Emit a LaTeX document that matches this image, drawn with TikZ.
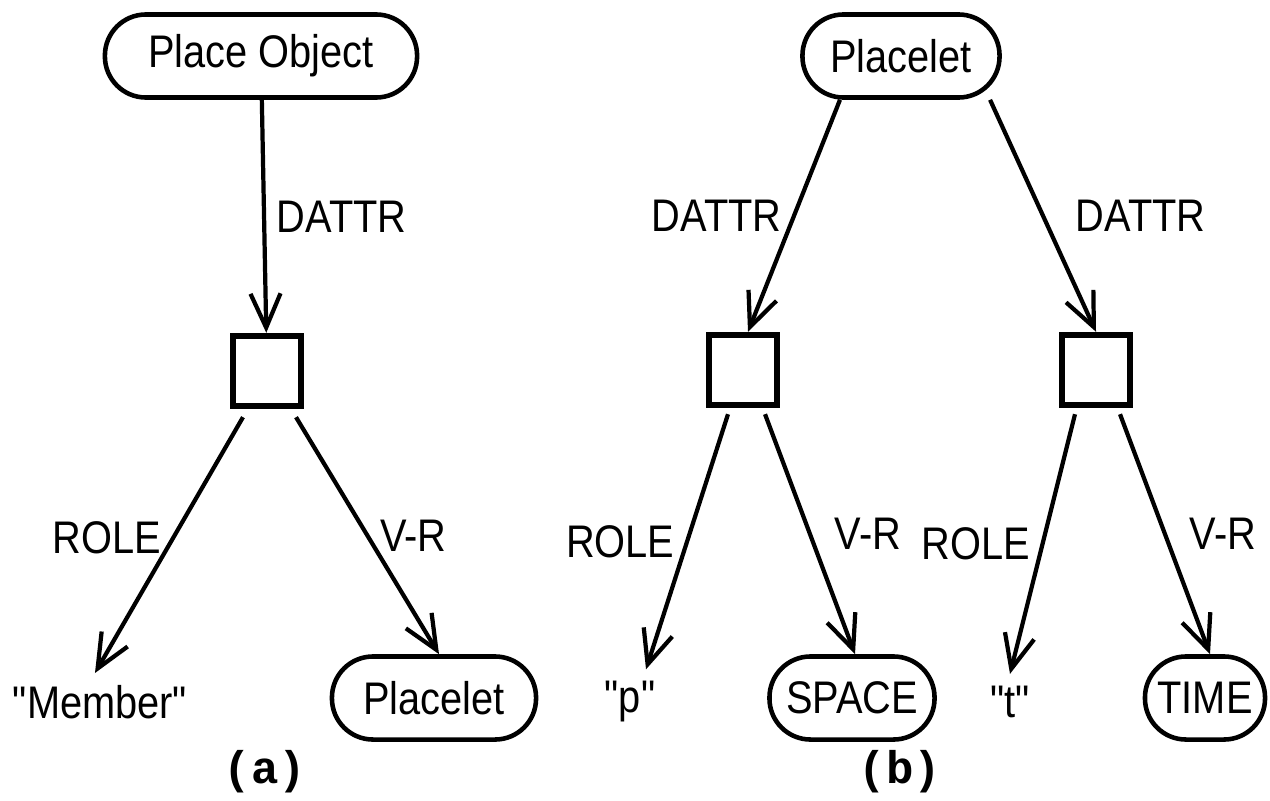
\documentclass[tikz,border=0pt]{standalone}
\usepackage{fontspec}
\newfontfamily\plotfont{Liberation Sans}[FakeStretch=0.87]
\newfontfamily\capfont{Liberation Mono}
\usetikzlibrary{arrows.meta}
\tikzset{
     concept/.style={draw, rectangle, rounded corners=0.41cm, minimum height=0.83cm, minimum width=#1, inner xsep=0.1cm, line width=1.3pt},
     slot/.style={draw, rectangle, minimum width=0.68cm, minimum height=0.7cm, line width=1.8pt},
     lit/.style={inner sep=1pt},
     link/.style={->, line width=1.2pt},
     lab/.style={inner sep=3pt},
     capt/.style={font=\capfont\bfseries\fontsize{13}{15}\selectfont},
}
\tikzset{>={Straight Barb[length=3.4mm,width=3mm]}}

\begin{document}
\begin{tikzpicture}[x=0.01cm, y=-0.01cm, font=\plotfont\fontsize{13}{15}\selectfont]
     \useasboundingbox (0,0) rectangle (1270,800);

     % (a)
     \node[concept=3.12cm] (pobj) at (261,56) {Place Object};
     \node[slot] (sa) at (267,371) {};
     \node[lit] (memb) at (100,702) {"Member"};
     \node[concept=2.04cm] (pla) at (434,698) {Placelet};

     \draw[link] (pobj) -- node[right,lab] {DATTR} (sa);
     \draw[link] ([xshift=-0.24cm,yshift=-0.08cm]sa.south) -- node[left,lab,pos=0.47] {ROLE} ([xshift=-0.05cm,yshift=0.08cm]memb.north);
     \draw[link] ([xshift=0.29cm,yshift=-0.08cm]sa.south) -- node[right,lab,pos=0.5] {V-R} ([xshift=0.05cm]pla.north);

     \node[capt] (capa) at (265,772) {(a)};

     % (b)
     \node[concept=1.97cm] (plb) at (901,56) {Placelet};
     \node[slot] (sb1) at (743,370) {};
     \node[slot] (sb2) at (1096,370) {};
     \node[lit] (pq) at (630,702) {"p"};
     \node[concept=1.65cm] (space) at (852,698) {SPACE};
     \node[lit] (tq) at (1010,702) {"t"};
     \node[concept=1.2cm] (time) at (1205,698) {TIME};

     \draw[link] ([xshift=-0.61cm]plb.south) -- node[left,lab] {DATTR} ([xshift=0.05cm]sb1.north);
     \draw[link] ([xshift=0.89cm]plb.south) -- node[right,lab,xshift=0.2cm] {DATTR} (sb2.north);

     \draw[link] ([xshift=-0.15cm,yshift=-0.06cm]sb1.south) -- node[left,lab,pos=0.5] {ROLE} ([xshift=0.16cm,yshift=0.08cm]pq.north);
     \draw[link] ([xshift=0.22cm,yshift=-0.06cm]sb1.south) -- node[right,lab,pos=0.5,xshift=0.12cm] {V-R} ([xshift=0.03cm]space.north);
     \draw[link] ([xshift=-0.21cm,yshift=-0.06cm]sb2.south) -- node[left,lab,pos=0.5] {ROLE} ([yshift=0.08cm]tq.north);
     \draw[link] ([xshift=0.24cm,yshift=-0.06cm]sb2.south) -- node[right,lab,pos=0.5,xshift=0.12cm] {V-R} ([xshift=0.05cm]time.north);

     \node[capt] (capb) at (900,772) {(b)};
\end{tikzpicture}
\end{document}
